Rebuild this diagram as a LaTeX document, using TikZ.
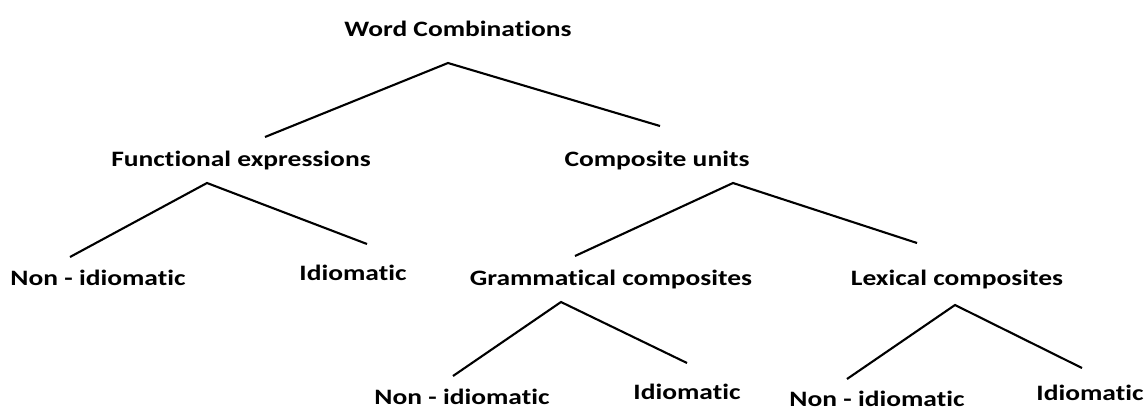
\documentclass[tikz,border=0pt]{standalone}
\usepackage{fontspec}
\setmainfont{Carlito}[FakeStretch=1.25,Ligatures=NoCommon]
\begin{document}
\begin{tikzpicture}[x=1pt,y=-1pt,
  lbl/.style={anchor=base,inner sep=0pt,font=\fontsize{22}{26}\selectfont\bfseries},
  branch/.style={line width=2.1pt,line join=miter}]
\useasboundingbox (0,0) rectangle (1146,410);
% labels
\node[lbl] (wc) at (458,36) {Word Combinations};
\node[lbl] (fe) at (241,166) {Functional expressions};
\node[lbl] (cu) at (657,166) {Composite units};
\node[lbl] (ni1) at (98,285) {Non - idiomatic};
\node[lbl] (id1) at (353,280) {Idiomatic};
\node[lbl] (gc) at (611,285) {Grammatical composites};
\node[lbl] (lc) at (957,285) {Lexical composites};
\node[lbl] (ni2) at (462,404) {Non - idiomatic};
\node[lbl] (id2) at (687,399) {Idiomatic};
\node[lbl] (ni3) at (877,406) {Non - idiomatic};
\node[lbl] (id3) at (1090,400) {Idiomatic};
% branch points
\coordinate (wcA) at (448,63);
\coordinate (wcL) at (265,137);
\coordinate (wcR) at (660,126);
\coordinate (feA) at (207,183);
\coordinate (feL) at (70,257);
\coordinate (feR) at (367,244);
\coordinate (cuA) at (733,183);
\coordinate (cuL) at (575,256);
\coordinate (cuR) at (917,243);
\coordinate (gcA) at (561,302);
\coordinate (gcL) at (453,376);
\coordinate (gcR) at (687,363);
\coordinate (lcA) at (955,305);
\coordinate (lcL) at (847,379);
\coordinate (lcR) at (1082,368);
% connectors
\draw[branch] (wcL) -- (wcA) -- (wcR);
\draw[branch] (feL) -- (feA) -- (feR);
\draw[branch] (cuL) -- (cuA) -- (cuR);
\draw[branch] (gcL) -- (gcA) -- (gcR);
\draw[branch] (lcL) -- (lcA) -- (lcR);
\end{tikzpicture}
\end{document}
